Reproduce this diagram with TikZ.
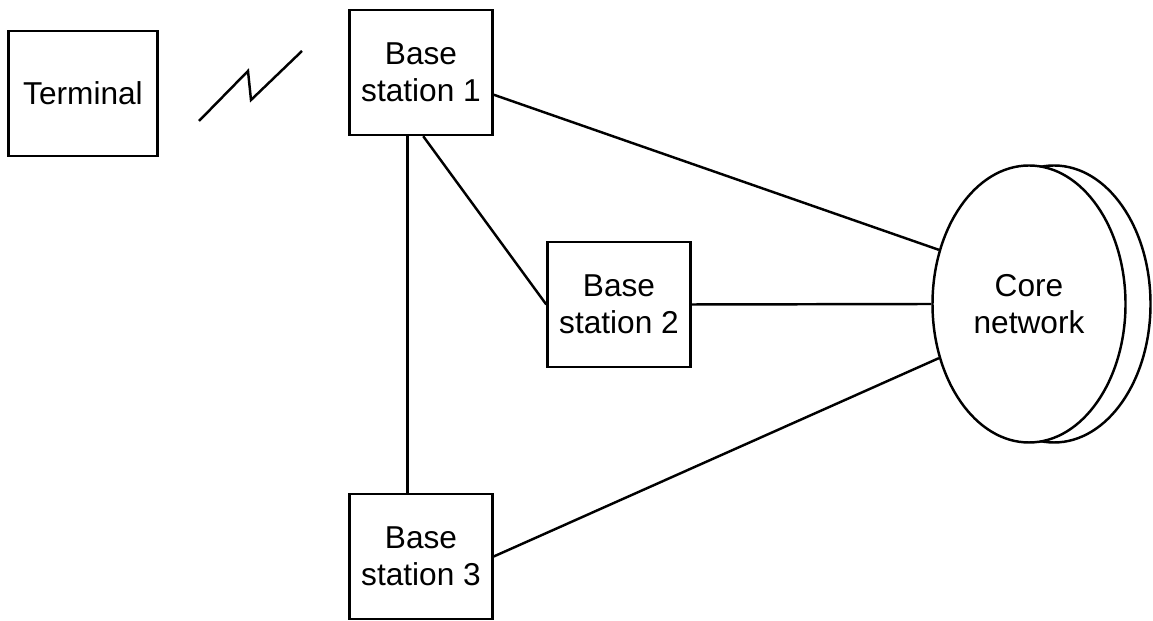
\documentclass[tikz,border=0pt]{standalone}
\usepackage{fontspec}
\setmainfont{Liberation Sans}
\usetikzlibrary{shapes.geometric}
\tikzset{
  boite/.style={draw, rectangle, line width=1.4pt, align=center, inner sep=0pt,
    minimum width=2.86cm, minimum height=2.5cm, font=\fontsize{18}{21}\selectfont},
  nuage/.style={draw, ellipse, line width=1.4pt, fill=white, align=center, inner sep=0pt,
    minimum width=3.86cm, minimum height=5.54cm, font=\fontsize{18}{21}\selectfont},
  lien/.style={line width=1.4pt}
}
\begin{document}
\begin{tikzpicture}
\useasboundingbox (0,0) rectangle (23.06,12.42);
%\draw[help lines] (0,0) grid (23,12);
\node[boite, minimum width=2.98cm] (t1) at (1.66,10.55) {Terminal};
\node[boite] (b1) at (8.42,10.97) {Base\\station 1};
\node[boite] (b2) at (12.38,6.33) {Base\\station 2};
\node[boite] (b3) at (8.42,1.29) {Base\\station 3};
\node[nuage] (cn2) at (21.08,6.34) {}; % disque du fond
\node[nuage] (cn) at (20.58,6.34) {Core\\network};
% liaison radio
\draw[lien] (3.98,10.0) -- (4.96,11.0) -- (5.02,10.42) -- (6.04,11.4);
\draw[lien] (b1.-17) -- (cn.149);
\draw[lien] (b1.-102) -- (b3.102);
\draw[lien] (b1.-88) -- (b2.west);
\draw[lien] (b2.east) -- (cn.west);
\draw[lien] (b3.east) -- (cn.211);
\end{tikzpicture}
\end{document}
